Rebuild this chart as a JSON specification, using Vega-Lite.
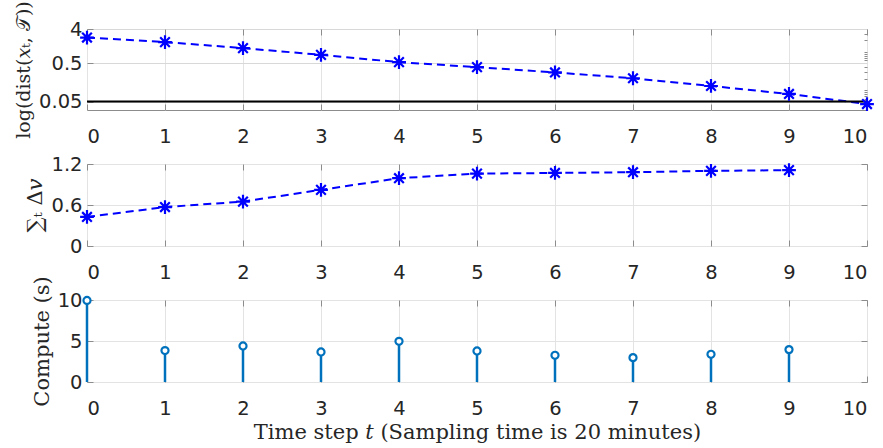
{
  "$schema": "https://vega.github.io/schema/vega-lite/v6.json",
  "background": "white",
  "padding": {"left": 14, "top": 0, "right": 5, "bottom": 0},
  "spacing": 54,
  "bounds": "flush",
  "datasets": {
    "dist": [
      {"t": 0, "d": 2.39}, {"t": 1, "d": 1.81}, {"t": 2, "d": 1.26}, {"t": 3, "d": 0.84},
      {"t": 4, "d": 0.54}, {"t": 5, "d": 0.40}, {"t": 6, "d": 0.29}, {"t": 7, "d": 0.204},
      {"t": 8, "d": 0.128}, {"t": 9, "d": 0.079}, {"t": 10, "d": 0.043}
    ],
    "dv": [
      {"t": 0, "v": 0.425}, {"t": 1, "v": 0.57}, {"t": 2, "v": 0.65}, {"t": 3, "v": 0.822},
      {"t": 4, "v": 0.992}, {"t": 5, "v": 1.059}, {"t": 6, "v": 1.069}, {"t": 7, "v": 1.08},
      {"t": 8, "v": 1.10}, {"t": 9, "v": 1.11}
    ],
    "comp": [
      {"t": 0, "c": 9.95}, {"t": 1, "c": 3.83}, {"t": 2, "c": 4.39}, {"t": 3, "c": 3.66},
      {"t": 4, "c": 4.96}, {"t": 5, "c": 3.78}, {"t": 6, "c": 3.26}, {"t": 7, "c": 2.97},
      {"t": 8, "c": 3.38}, {"t": 9, "c": 3.95}
    ],
    "thr": [{"y": 0.05}]
  },
  "config": {
    "view": {"stroke": "#8c8c8c", "strokeWidth": 1},
    "axis": {
      "domain": false,
      "grid": true,
      "gridColor": "#e3e3e3",
      "labelFont": "DejaVu Sans",
      "labelFontSize": 19.5,
      "labelColor": "#262626",
      "tickColor": "#8c8c8c",
      "tickSize": -6,
      "titleFont": "DejaVu Serif",
      "titleFontWeight": "normal",
      "titleFontSize": 21,
      "titleColor": "#262626",
      "titlePadding": 5
    },
    "axisX": {"labelPadding": 23, "format": "d"},
    "axisY": {"labelPadding": 11}
  },
  "vconcat": [
    {
      "width": 780,
      "height": 81,
      "resolve": {"axis": {"y": "independent", "x": "independent"}},
      "layer": [
        {
          "data": {"name": "dist"},
          "mark": {"type": "line", "color": "#0000ff", "strokeWidth": 2, "strokeDash": [8, 5]},
          "encoding": {
            "x": {"field": "t", "type": "quantitative", "scale": {"domain": [0, 10]},
                  "axis": {"values": [0,1,2,3,4,5,6,7,8,9,10], "title": null}},
            "y": {"field": "d", "type": "quantitative", "scale": {"type": "log", "domain": [0.03, 4], "nice": false},
                  "axis": {"values": [0.05, 0.5, 4], "format": "~g", "title": "log(dist(𝑥ₜ, 𝒯))", "titleFontSize": 19, "gridColor": "#d8d8d8"}}
          }
        },
        {
          "data": {"name": "thr"},
          "mark": {"type": "rule", "color": "black", "strokeWidth": 2},
          "encoding": {
            "y": {"field": "y", "type": "quantitative",
                  "axis": {"orient": "right", "values": [0.03,0.04,0.06,0.07,0.08,0.09,0.1,0.2,0.3,0.4,0.6,0.7,0.8,0.9,1,2,3],
                           "labels": false, "title": null, "gridDash": [1, 2], "gridColor": "#d0d0d0", "tickSize": -3}}
          }
        },
        {
          "data": {"name": "dist"},
          "mark": {"type": "point", "shape": "M-1,0H1M0,-1V1M-0.7,-0.7L0.7,0.7M-0.7,0.7L0.7,-0.7", "filled": false, "color": "#0000ff", "strokeWidth": 2.2, "size": 190, "opacity": 1},
          "encoding": {
            "x": {"field": "t", "type": "quantitative",
                  "axis": {"orient": "top", "values": [0,1,2,3,4,5,6,7,8,9,10], "labels": false, "grid": false, "title": null}},
            "y": {"field": "d", "type": "quantitative", "axis": null}
          }
        }
      ]
    },
    {
      "width": 780,
      "height": 82,
      "resolve": {"axis": {"y": "independent", "x": "independent"}},
      "layer": [
        {
          "data": {"name": "dv"},
          "mark": {"type": "line", "color": "#0000ff", "strokeWidth": 2, "strokeDash": [8, 5]},
          "encoding": {
            "x": {"field": "t", "type": "quantitative", "scale": {"domain": [0, 10]},
                  "axis": {"values": [0,1,2,3,4,5,6,7,8,9,10], "title": null}},
            "y": {"field": "v", "type": "quantitative", "scale": {"domain": [0, 1.2]},
                  "axis": {"values": [0, 0.6, 1.2], "format": "~f", "title": "∑ₜ Δ𝑣"}}
          }
        },
        {
          "data": {"name": "dv"},
          "mark": {"type": "point", "shape": "M-1,0H1M0,-1V1M-0.7,-0.7L0.7,0.7M-0.7,0.7L0.7,-0.7", "filled": false, "color": "#0000ff", "strokeWidth": 2.2, "size": 190, "opacity": 1},
          "encoding": {
            "x": {"field": "t", "type": "quantitative",
                  "axis": {"orient": "top", "values": [0,1,2,3,4,5,6,7,8,9,10], "labels": false, "grid": false, "title": null}},
            "y": {"field": "v", "type": "quantitative",
                  "axis": {"orient": "right", "values": [0, 0.6, 1.2], "labels": false, "grid": false, "title": null}}
          }
        }
      ]
    },
    {
      "width": 780,
      "height": 82,
      "resolve": {"axis": {"y": "independent", "x": "independent"}},
      "layer": [
        {
          "data": {"name": "comp"},
          "mark": {"type": "rule", "color": "#0072bd", "strokeWidth": 2.5},
          "encoding": {
            "x": {"field": "t", "type": "quantitative", "scale": {"domain": [0, 10]},
                  "axis": {"values": [0,1,2,3,4,5,6,7,8,9,10], "title": "Time step 𝑡 (Sampling time is 20 minutes)", "titlePadding": 4}},
            "y": {"field": "c", "type": "quantitative", "scale": {"domain": [0, 10]},
                  "axis": {"values": [0, 5, 10], "format": "d", "title": "Compute (s)"}},
            "y2": {"datum": 0}
          }
        },
        {
          "data": {"name": "comp"},
          "mark": {"type": "point", "shape": "circle", "filled": true, "fill": "white", "stroke": "#0072bd", "strokeWidth": 2.2, "size": 50, "opacity": 1},
          "encoding": {
            "x": {"field": "t", "type": "quantitative",
                  "axis": {"orient": "top", "values": [0,1,2,3,4,5,6,7,8,9,10], "labels": false, "grid": false, "title": null}},
            "y": {"field": "c", "type": "quantitative",
                  "axis": {"orient": "right", "values": [0, 5, 10], "labels": false, "grid": false, "title": null}}
          }
        }
      ]
    }
  ]
}
